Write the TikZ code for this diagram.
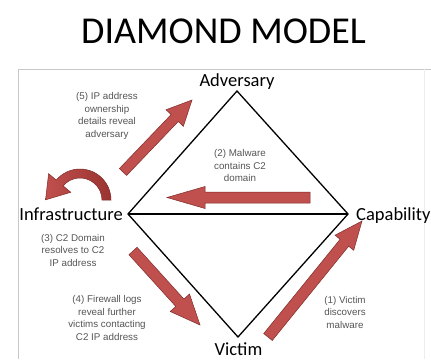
\documentclass[tikz,border=0pt]{standalone}
\usepackage{fontspec}
\setmainfont{Liberation Sans}
\newfontfamily\calfont{Carlito}
\usetikzlibrary{calc}
\definecolor{arrowred}{HTML}{C0504D}
\definecolor{arrowdark}{HTML}{9A3331}
\definecolor{arrowedge}{HTML}{7E2B29}
\definecolor{notegray}{HTML}{555555}

% block arrow: name, tail, tip, half shaft width, half head width, head length
\newcommand{\blockarrow}[6]{%
  \coordinate (#1h) at ($(#3)!#6!(#2)$);
  \path[redblock] ($(#2)!#4!90:(#3)$) -- ($(#1h)!#4!90:(#3)$) -- ($(#1h)!#5!90:(#3)$)
    -- (#3) -- ($(#1h)!#5!-90:(#3)$) -- ($(#1h)!#4!-90:(#3)$) -- ($(#2)!#4!-90:(#3)$) -- cycle;
}

\tikzset{
  redblock/.style={fill=arrowred, draw=arrowedge, line width=0.5pt, line join=miter},
  edge/.style={draw=black, line width=1.3pt, line join=miter},
  vertexlabel/.style={font=\calfont\fontsize{18.5}{20}\selectfont, text=black, inner sep=0pt},
  note/.style={font=\fontsize{9.8}{12.5}\selectfont, text=notegray, align=center, inner sep=0pt},
  framerule/.style={line width=0.8pt},
}

\begin{document}
\begin{tikzpicture}[x=1pt, y=-1pt]
  \useasboundingbox (0,0) rectangle (431,359);

  % title
  \node[font=\calfont\fontsize{38}{40}\selectfont, anchor=base, inner sep=0pt] (title) at (223.5,43) {DIAMOND MODEL};

  % light frame round the diagram
  \draw[framerule, draw=black!22] (18,359) -- (18,69) -- (431,69);
  \draw[framerule, draw=black!7] (424,69) -- (424,359);

  % diamond vertices
  \coordinate (top) at (237,91);
  \coordinate (left) at (128,214);
  \coordinate (right) at (348,214);
  \coordinate (bottom) at (238,337);
  \draw[edge] (top) -- (right) -- (bottom) -- (left) -- cycle;
  \draw[edge] (left) -- (right);

  % vertex labels
  \node[vertexlabel, anchor=base] (adv) at (237,86) {Adversary};
  \node[vertexlabel, anchor=base east] (infra) at (123,220) {Infrastructure};
  \node[vertexlabel, anchor=base west] (cap) at (356,220) {Capability};
  \node[vertexlabel, anchor=base] (vic) at (238.5,355.5) {Victim};

  % pivot arrows
  \coordinate (a5t) at (123,172);  \coordinate (a5p) at (192,100);
  \blockarrow{a5}{a5t}{a5p}{5pt}{12pt}{25pt}
  \coordinate (a2t) at (310,197.5); \coordinate (a2p) at (167,197.5);
  \blockarrow{a2}{a2t}{a2p}{5.5pt}{11pt}{38pt}
  \coordinate (a4t) at (133,251);  \coordinate (a4p) at (200,325);
  \blockarrow{a4}{a4t}{a4p}{5.5pt}{13pt}{30pt}
  \coordinate (a1t) at (268,337);  \coordinate (a1p) at (362,221);
  \blockarrow{a1}{a1t}{a1p}{5.5pt}{12pt}{28pt}

  % curved arrow over Infrastructure
  \coordinate (loopc) at (80,200);
  \coordinate (looptip) at ($(loopc)+(140:26.5pt)+(230:22pt)$);
  \shadedraw[left color=arrowred, right color=arrowdark, draw=arrowedge, line width=0.5pt]
    ($(loopc)+(0:31pt)$) arc[start angle=0, end angle=140, radius=31pt]
    -- ($(loopc)+(140:41pt)$) -- (looptip) -- ($(loopc)+(140:12pt)$)
    -- ($(loopc)+(140:22pt)$) arc[start angle=140, end angle=0, radius=22pt] -- cycle;

  % step notes
  \node[note] (n5) at (107,116) {(5) IP address\\ownership\\details reveal\\adversary};
  \node[note] (n2) at (240,165.5) {(2) Malware\\contains C2\\domain};
  \node[note] (n3) at (73,250) {(3) C2 Domain\\resolves to C2\\IP address};
  \node[note] (n4) at (107,318) {(4) Firewall logs\\reveal further\\victims contacting\\C2 IP address};
  \node[note] (n1) at (345,312) {(1) Victim\\discovers\\malware};
\end{tikzpicture}
\end{document}
